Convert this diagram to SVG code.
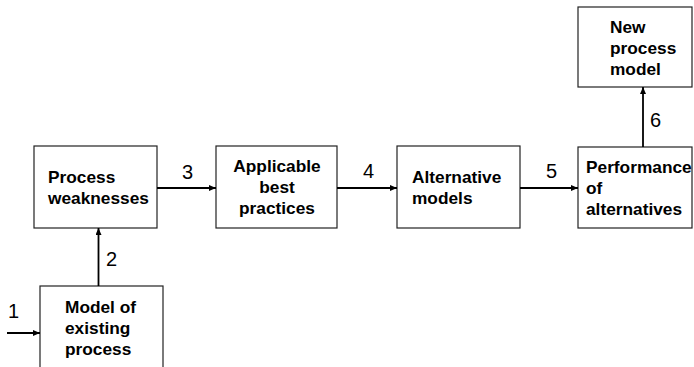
<svg xmlns="http://www.w3.org/2000/svg" width="694" height="367" viewBox="0 0 694 367">
<defs>
<marker id="ah" markerWidth="7" markerHeight="6" refX="7" refY="3" orient="auto" markerUnits="userSpaceOnUse">
<path d="M0,0 L7,3 L0,6 Z" fill="#000"/>
</marker>
<style>
.box{fill:#fff;stroke:#222;stroke-width:1.2}
.t{font-family:"Liberation Sans",Arial,sans-serif;font-weight:bold;font-size:17.3px;fill:#000}
.c{text-anchor:middle}
.n{font-family:"Liberation Sans",Arial,sans-serif;font-size:20px;fill:#000}
.e{stroke:#000;stroke-width:1.8;fill:none;marker-end:url(#ah)}
</style>
</defs>
<rect width="694" height="367" fill="#fff"/>
<g id="n1">
<rect class="box" x="40" y="286" width="123" height="90"/>
<text class="t" x="65" y="313">Model of</text>
<text class="t" x="65" y="334">existing</text>
<text class="t" x="65" y="355">process</text>
</g>
<g id="n2">
<rect class="box" x="34" y="146" width="123" height="82"/>
<text class="t" x="48" y="183">Process</text>
<text class="t" x="48" y="204">weaknesses</text>
</g>
<g id="n3">
<rect class="box" x="216" y="146" width="121" height="82"/>
<text class="t c" x="277" y="172">Applicable</text>
<text class="t c" x="277" y="193">best</text>
<text class="t c" x="277" y="214">practices</text>
</g>
<g id="n4">
<rect class="box" x="397" y="146" width="123" height="82"/>
<text class="t" x="412" y="183">Alternative</text>
<text class="t" x="412" y="204">models</text>
</g>
<g id="n5">
<rect class="box" x="578" y="147" width="114" height="81"/>
<text class="t" x="586" y="173">Performance</text>
<text class="t" x="586" y="194">of</text>
<text class="t" x="586" y="215">alternatives</text>
</g>
<g id="n6">
<rect class="box" x="578" y="7" width="114" height="80"/>
<text class="t" x="610" y="33">New</text>
<text class="t" x="610" y="54">process</text>
<text class="t" x="610" y="75">model</text>
</g>
<g id="edges">
<line class="e" x1="7" y1="333" x2="40" y2="333"/>
<line class="e" x1="98.5" y1="286" x2="98.5" y2="228"/>
<line class="e" x1="157" y1="188" x2="216" y2="188"/>
<line class="e" x1="337" y1="188" x2="397" y2="188"/>
<line class="e" x1="520" y1="188" x2="578" y2="188"/>
<line class="e" x1="643" y1="147" x2="643" y2="87"/>
<text class="n" x="8" y="318">1</text>
<text class="n" x="106" y="266">2</text>
<text class="n" x="182" y="179">3</text>
<text class="n" x="363" y="178">4</text>
<text class="n" x="546" y="178">5</text>
<text class="n" x="650" y="127">6</text>
</g>
</svg>
